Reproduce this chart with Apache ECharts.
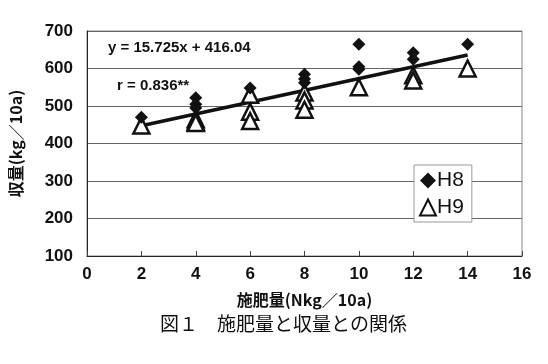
<!DOCTYPE html>
<html><head><meta charset="utf-8">
<script src="https://cdn.jsdelivr.net/npm/echarts@6/dist/echarts.min.js"></script>
<style>html,body{margin:0;padding:0;background:#fff}#c{width:548px;height:364px}</style>
</head><body><div id="c"></div>
<script>
// H8 data (施肥量 x, 収量 y)
const h8X = [2, 4, 4, 4, 6, 8, 8, 8, 10, 10, 10, 12, 12, 14];
const h8Y = [470, 522, 505, 495, 548, 585, 572, 562, 665, 605, 598, 642, 625, 665];
// H9 data
const h9X = [2, 4, 4, 4, 6, 6, 6, 8, 8, 8, 10, 12, 12, 14];
const h9Y = [448, 465, 458, 455, 530, 485, 460, 536, 515, 490, 550, 582, 568, 600];
// regression line end points
const trendX = [2, 14];
const trendY = [447.5, 636.2];
const xTicks = [0, 2, 4, 6, 8, 10, 12, 14, 16];
const yTicks = [100, 200, 300, 400, 500, 600, 700];

const pair = (xs, ys) => xs.map((x, i) => [x, ys[i]]);
const F = '"Liberation Sans Narrow","Liberation Sans",Arial,sans-serif';
const chart = echarts.init(document.getElementById('c'));
chart.setOption({
  animation: false,
  backgroundColor: '#fff',
  grid: {left: 86, right: 26, top: 31, bottom: 108, show: true, borderColor: '#888', borderWidth: 1},
  xAxis: {
    type: 'value', min: xTicks[0], max: xTicks[xTicks.length-1], interval: 2,
    axisLine: {show: true, lineStyle: {color: '#222', width: 1}},
    axisTick: {show: true, inside: true, length: 5, lineStyle: {color: '#444'}},
    splitLine: {show: false},
    axisLabel: {color: '#111', fontFamily: F, fontWeight: 'bold', fontSize: 17, margin: 10},
    name: '施肥量(Nkg／10a)', nameLocation: 'middle', nameGap: 36,
    nameTextStyle: {color: '#111', fontFamily: '"Noto Sans CJK JP",sans-serif', fontWeight: 'bold', fontSize: 16}
  },
  yAxis: {
    type: 'value', min: yTicks[0], max: yTicks[yTicks.length-1], interval: 100,
    axisLine: {show: true, lineStyle: {color: '#222'}},
    axisTick: {show: false},
    splitLine: {show: true, lineStyle: {color: '#666', width: 1}},
    axisLabel: {color: '#111', fontFamily: F, fontWeight: 'bold', fontSize: 17, margin: 14},
    name: '収量(kg／10a)', nameLocation: 'middle', nameGap: 63, nameRotate: 90,
    nameTextStyle: {color: '#111', fontFamily: '"Noto Sans CJK JP",sans-serif', fontWeight: 'bold', fontSize: 16}
  },
  legend: {
    orient: 'vertical', left: 414, top: 165, width: 59,
    backgroundColor: '#fff', borderColor: '#999', borderWidth: 1,
    padding: [5, 8, 4, 5], itemGap: 6, itemWidth: 16, itemHeight: 16,
    textStyle: {color: '#111', fontFamily: '"Liberation Sans",Arial,sans-serif', fontSize: 21, padding: [0, 0, 0, -4]},
    data: [{name: 'H8', icon: 'diamond'}, {name: 'H9', icon: 'triangle'}]
  },
  graphic: [
    {type: 'text', left: 108, top: 40, style: {text: 'y = 15.725x + 416.04', fill: '#111', font: 'bold 15px "Liberation Sans",Arial,sans-serif'}},
    {type: 'text', left: 117, top: 78, style: {text: 'r = 0.836**', fill: '#111', font: 'bold 15px "Liberation Sans",Arial,sans-serif'}},
    {type: 'text', left: 160, top: 314, style: {text: '図１　施肥量と収量との関係', fill: '#111', font: '19px "Noto Sans CJK JP",sans-serif'}}
  ],
  series: [
    {name: 'trend', type: 'line', data: pair(trendX, trendY), symbol: 'none', z: 3,
     lineStyle: {color: '#111', width: 3.5}},
    {name: 'H9', type: 'scatter', data: pair(h9X, h9Y), symbol: 'triangle', symbolSize: 16, z: 4,
     itemStyle: {color: '#fff', borderColor: '#111', borderWidth: 2.5, opacity: 1}},
    {name: 'H8', type: 'scatter', data: pair(h8X, h8Y), symbol: 'diamond', symbolSize: 13, z: 5,
     itemStyle: {color: '#111', opacity: 1}}
  ]
});
</script></body></html>
